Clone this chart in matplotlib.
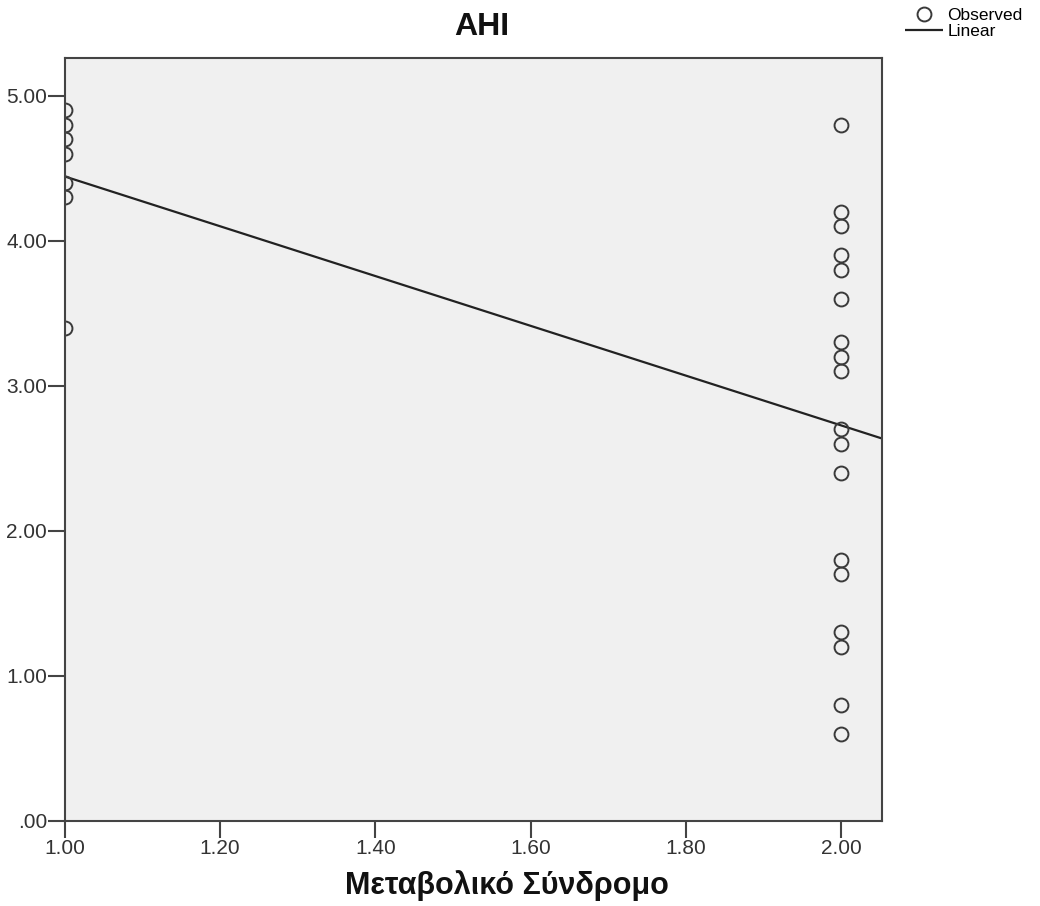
import numpy as np
import matplotlib.pyplot as plt

plt.rcParams['font.family'] = ['Liberation Sans', 'DejaVu Sans']

# AHI values, by group of the metabolic syndrome variable
group_x = [1.0] * 7 + [2.0] * 18
ahi = [4.9, 4.8, 4.7, 4.6, 4.4, 4.3, 3.4,
       4.8, 4.2, 4.1, 3.9, 3.8, 3.6, 3.3, 3.2, 3.1, 2.7, 2.6, 2.4,
       1.8, 1.7, 1.3, 1.2, 0.8, 0.6]

x_ticks = [1.0, 1.2, 1.4, 1.6, 1.8, 2.0]
x_ticklabels = ['1.00', '1.20', '1.40', '1.60', '1.80', '2.00']
y_ticks = [0, 1, 2, 3, 4, 5]
y_ticklabels = ['.00', '1.00', '2.00', '3.00', '4.00', '5.00']

W, H = 1040, 906
fig = plt.figure(figsize=(W / 100, H / 100), dpi=100)
ax = fig.add_axes([65 / W, 1 - 821 / H, (882 - 65) / W, (821 - 58) / H])
ax.set_facecolor('#f0f0f0')

ax.set_xlim(1.0, 2.053)
ax.set_ylim(0, 5.26)

# linear fit through the observed points
slope, intercept = np.polyfit(group_x, ahi, 1)
xs = np.array(ax.get_xlim())
ax.plot(xs, intercept + slope * xs, color='#222222', lw=1.6,
        label='Linear', zorder=2, solid_capstyle='butt')

# points on the left edge get cut in half by the frame, as in the original
ax.plot(group_x, ahi, linestyle='none', marker='o', markersize=10,
        markerfacecolor='none', markeredgecolor='#3a3a3a',
        markeredgewidth=1.4, label='Observed', zorder=3)

for s in ax.spines.values():
    s.set_color('#444444')
    s.set_linewidth(1.5)
    s.set_zorder(4)

ax.set_xticks(x_ticks)
ax.set_xticklabels(x_ticklabels)
ax.set_yticks(y_ticks)
ax.set_yticklabels(y_ticklabels)
ax.tick_params(axis='both', direction='out', length=12, width=1.5,
               color='#444444', labelcolor='#333333', labelsize=15, pad=1)

fig.text(482 / W, 1 - 27 / H, 'AHI', ha='center', va='center',
         fontsize=23, fontweight='bold', color='#111111')
fig.text(507 / W, 1 - 886 / H, 'Μεταβολικό Σύνδρομο', ha='center',
         va='center', fontsize=22, fontweight='bold', color='#111111')

handles, labels = ax.get_legend_handles_labels()
ax.legend(handles[::-1], labels[::-1], loc='upper left',
          bbox_to_anchor=(905 / W, 1 - 8 / H), bbox_transform=fig.transFigure,
          frameon=False, fontsize=12.5, handlelength=2.2, handletextpad=0.25,
          labelspacing=0.05, borderaxespad=0, borderpad=0)

fig.savefig('out.png', dpi=100)
